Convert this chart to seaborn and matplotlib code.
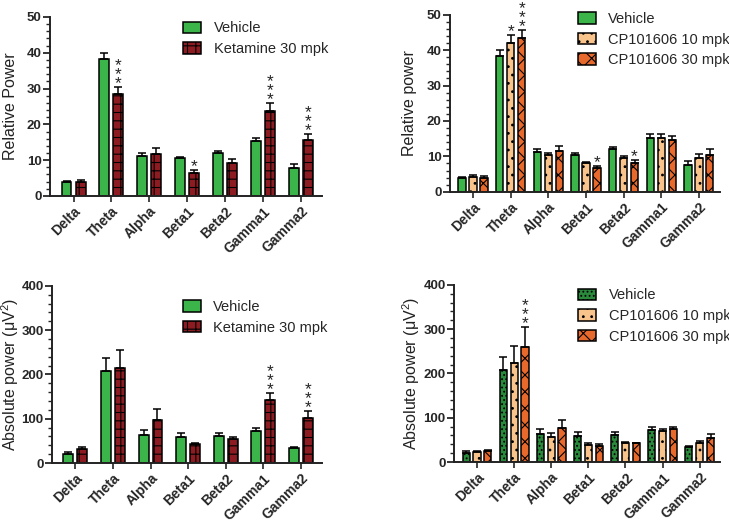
import numpy as np
import pandas as pd
import matplotlib
matplotlib.use("Agg")
import matplotlib.pyplot as plt
from matplotlib.ticker import MultipleLocator
from matplotlib.patches import Patch
import seaborn as sns

sns.set_style("ticks")
plt.rcParams["font.family"] = ["Liberation Sans", "DejaVu Sans"]
plt.rcParams["hatch.linewidth"] = 0.8

# --- Data ---
bands = ["Delta", "Theta", "Alpha", "Beta1", "Beta2", "Gamma1", "Gamma2"]

# relative power (mean, SEM)
rel_vehicle = [3.8, 38.3, 11.2, 10.5, 12.0, 15.3, 7.7]
rel_vehicle_sem = [0.3, 1.7, 0.8, 0.5, 0.7, 1.0, 1.1]
rel_ketamine = [3.9, 28.6, 11.6, 6.5, 9.3, 23.7, 15.7]
rel_ketamine_sem = [0.6, 1.9, 1.9, 0.7, 0.9, 2.3, 1.5]
rel_cp10 = [4.3, 41.9, 10.3, 8.1, 9.6, 15.2, 9.5]
rel_cp10_sem = [0.3, 2.3, 0.7, 0.4, 0.5, 1.1, 1.2]
rel_cp30 = [4.0, 43.4, 11.6, 6.8, 8.2, 14.5, 10.5]
rel_cp30_sem = [0.4, 2.3, 1.2, 0.4, 0.7, 1.3, 1.7]

# absolute power (mean, SEM)
abs_vehicle = [21, 207, 64, 59, 61, 73, 34]
abs_vehicle_sem = [4, 31, 11, 9, 6, 5, 2]
abs_ketamine = [31, 214, 96, 42, 55, 143, 102]
abs_ketamine_sem = [6, 41, 26, 4, 3, 16, 15]
abs_cp10 = [22, 223, 56, 39, 43, 70, 43]
abs_cp10_sem = [3, 38, 10, 3, 3, 5, 4]
abs_cp30 = [24, 260, 77, 37, 42, 74, 54]
abs_cp30_sem = [3, 46, 19, 3, 2, 5, 10]

# significance stars (band -> stars) per group
rel_ketamine_sig = {"Theta": "***", "Beta1": "*", "Gamma1": "***", "Gamma2": "***"}
rel_cp10_sig = {"Theta": "*"}
rel_cp30_sig = {"Theta": "***", "Beta1": "*", "Beta2": "*"}
abs_ketamine_sig = {"Gamma1": "***", "Gamma2": "***"}
abs_cp30_sig = {"Theta": "***"}

GREEN = "#3bb54a"
DARK_GREEN = "#2a8a3c"
RED = "#8c1c22"
LIGHT_ORANGE = "#f9c48c"
ORANGE = "#e8692c"


def draw_panel(ax, groups, ymax, major, minor, ylabel, width, gap, leg_xy, lab_x):
    """groups: list of (name, values, sem, color, hatch, sig)"""
    names = [g[0] for g in groups]
    df = pd.DataFrame({
        "Band": np.tile(bands, len(groups)),
        "Group": np.repeat(names, len(bands)),
        "Value": np.concatenate([g[1] for g in groups]),
    })
    palette = {g[0]: g[3] for g in groups}
    sns.barplot(ax=ax, data=df, x="Band", y="Value", hue="Group", order=bands,
                hue_order=names, palette=palette, errorbar=None, width=width,
                gap=gap, edgecolor="black", linewidth=1.1, saturation=1,
                legend=False, zorder=2)

    # bars come in hue order, each with len(bands) patches
    bars = [p for p in ax.patches]
    for gi, (name, vals, sem, color, hatch, sig) in enumerate(groups):
        grp_bars = bars[gi * len(bands):(gi + 1) * len(bands)]
        xs = [b.get_x() + b.get_width() / 2 for b in grp_bars]
        for b in grp_bars:
            if hatch:
                b.set_hatch(hatch)
        ax.errorbar(xs, vals, yerr=[np.zeros(len(vals)), sem], fmt="none",
                    ecolor="black", elinewidth=1.1, capsize=3, capthick=1.1, zorder=3)
        for band, stars in sig.items():
            i = bands.index(band)
            ax.annotate("\n".join(stars), (xs[i], vals[i] + sem[i]),
                        xytext=(0, -3), textcoords="offset points",
                        ha="center", va="bottom", fontsize=12.5,
                        linespacing=0.5, color="#222222", annotation_clip=False)

    ax.set_ylim(0, ymax)
    ax.set_xlim(-0.62, 6.55)
    ax.yaxis.set_major_locator(MultipleLocator(major))
    ax.yaxis.set_minor_locator(MultipleLocator(minor))
    ax.set_xlabel("")
    ax.set_ylabel(ylabel, fontsize=11.5, color="#222222", va="center")
    ax.yaxis.set_label_coords(lab_x, 0.5)
    sns.despine(ax=ax)
    for s in ["left", "bottom"]:
        ax.spines[s].set_linewidth(1.4)
        ax.spines[s].set_color("#222222")
    ax.tick_params(axis="y", which="major", length=5, width=1.3, labelsize=9.5, pad=1)
    ax.tick_params(axis="y", which="minor", length=3, width=1.0)
    ax.tick_params(axis="x", length=4, width=1.2, labelsize=10, pad=2)
    for lab in ax.get_yticklabels():
        lab.set_fontweight("bold")
    for lab in ax.get_xticklabels():
        lab.set_fontweight("bold")
        lab.set_rotation(45)
        lab.set_ha("right")
        lab.set_rotation_mode("anchor")

    handles = [Patch(facecolor=g[3], edgecolor="black", hatch=g[4], linewidth=1.1)
               for g in groups]
    ax.legend(handles, names, frameon=False, loc="upper left",
              bbox_to_anchor=leg_xy, fontsize=10.5, handlelength=1.25,
              handleheight=0.8, labelspacing=0.45, handletextpad=0.85,
              borderpad=0, borderaxespad=0)


fig = plt.figure(figsize=(7.29, 5.24), dpi=100)
ax1 = fig.add_axes([0.0686, 0.626, 0.373, 0.3416])
ax2 = fig.add_axes([0.617, 0.634, 0.370, 0.338])
ax3 = fig.add_axes([0.0713, 0.1164, 0.370, 0.338])
ax4 = fig.add_axes([0.6228, 0.1183, 0.365, 0.338])

draw_panel(ax1, [("Vehicle", rel_vehicle, rel_vehicle_sem, GREEN, "", {}),
                 ("Ketamine 30 mpk", rel_ketamine, rel_ketamine_sem, RED, "++", rel_ketamine_sig)],
           50, 10, 2, "Relative Power", 0.74, 0.29, (0.49, 0.975), -0.145)
draw_panel(ax2, [("Vehicle", rel_vehicle, rel_vehicle_sem, GREEN, "", {}),
                 ("CP101606 10 mpk", rel_cp10, rel_cp10_sem, LIGHT_ORANGE, "..", rel_cp10_sig),
                 ("CP101606 30 mpk", rel_cp30, rel_cp30_sem, ORANGE, "xx", rel_cp30_sig)],
           50, 10, 2, "Relative power", 0.875, 0.33, (0.474, 1.015), -0.15)
draw_panel(ax3, [("Vehicle", abs_vehicle, abs_vehicle_sem, GREEN, "", {}),
                 ("Ketamine 30 mpk", abs_ketamine, abs_ketamine_sem, RED, "++", abs_ketamine_sig)],
           400, 100, 20, r"Absolute power ($\mathregular{\mu V^2}$)", 0.74, 0.29,
           (0.485, 0.92), -0.155)
draw_panel(ax4, [("Vehicle", abs_vehicle, abs_vehicle_sem, DARK_GREEN, "....", {}),
                 ("CP101606 10 mpk", abs_cp10, abs_cp10_sem, LIGHT_ORANGE, "..", {}),
                 ("CP101606 30 mpk", abs_cp30, abs_cp30_sem, ORANGE, "xx", abs_cp30_sig)],
           400, 100, 20, r"Absolute power ($\mathregular{\mu V^2}$)", 0.875, 0.33,
           (0.466, 0.98), -0.16)

fig.savefig("out.png", dpi=100)
